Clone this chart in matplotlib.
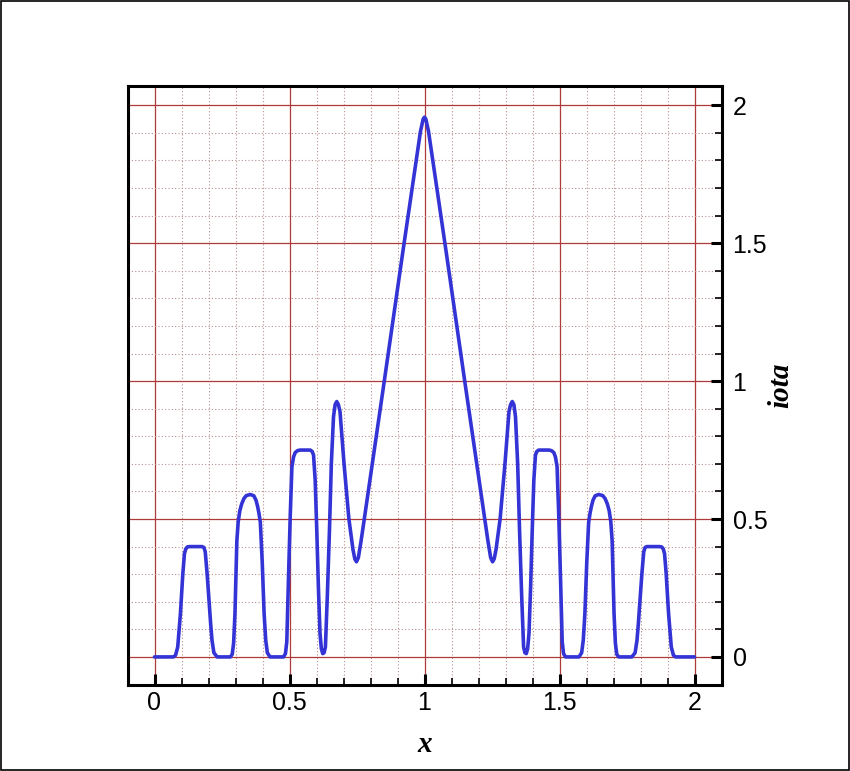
import matplotlib
matplotlib.use("Agg")
import matplotlib.pyplot as plt
from matplotlib.ticker import MultipleLocator, FuncFormatter
from matplotlib.patches import Rectangle

plt.rcParams["font.family"] = ["Liberation Sans", "DejaVu Sans"]

# ---- data ----
x_left = [0.000, 0.070, 0.078, 0.086, 0.096, 0.105, 0.111, 0.116, 0.122, 0.130, 0.150, 0.176,
          0.183, 0.188, 0.195, 0.201, 0.208, 0.213, 0.220, 0.232, 0.281, 0.288, 0.293, 0.298, 0.305,
          0.310, 0.316, 0.323, 0.331, 0.340, 0.355, 0.368, 0.376, 0.382, 0.387, 0.392, 0.399, 0.406, 0.412,
          0.418, 0.428, 0.478, 0.485, 0.490, 0.496, 0.503, 0.509, 0.515, 0.521, 0.530, 0.539, 0.577, 0.584, 0.589,
          0.595, 0.601, 0.607, 0.613, 0.618, 0.623, 0.628, 0.633, 0.640, 0.648,
          0.655, 0.663, 0.669, 0.675, 0.681, 0.687, 0.702, 0.720, 0.735, 0.742,
          0.748, 0.755, 0.765, 0.777, 0.851, 0.921, 0.985, 0.995, 1.000]
iota_left = [0.000, 0.000, 0.006, 0.036, 0.157, 0.303, 0.375, 0.392, 0.399, 0.400, 0.400, 0.400,
             0.397, 0.381, 0.300, 0.218, 0.120, 0.060, 0.015, 0.000, 0.000, 0.010, 0.050, 0.157, 0.420,
             0.490, 0.530, 0.555, 0.574, 0.585, 0.589, 0.584, 0.568, 0.545, 0.520, 0.488, 0.343, 0.157, 0.060,
             0.015, 0.000, 0.000, 0.012, 0.055, 0.278, 0.520, 0.690, 0.725, 0.741, 0.748, 0.750, 0.750, 0.745, 0.732,
             0.642, 0.460, 0.254, 0.085, 0.030, 0.012, 0.015, 0.036, 0.218, 0.460,
             0.702, 0.871, 0.915, 0.926, 0.915, 0.890, 0.700, 0.500, 0.390, 0.355,
             0.345, 0.360, 0.420, 0.500, 1.000, 1.477, 1.905, 1.950, 1.957]

x_right = [1.005, 1.015, 1.079, 1.149, 1.223, 1.235, 1.245, 1.252,
           1.258, 1.265, 1.280, 1.298, 1.313, 1.319, 1.325, 1.331, 1.337, 1.345,
           1.352, 1.360, 1.367, 1.372, 1.377, 1.382, 1.387, 1.393, 1.399, 1.405,
           1.411, 1.416, 1.423, 1.461, 1.470, 1.479, 1.485, 1.491, 1.497, 1.504, 1.510, 1.515, 1.522, 1.572, 1.582,
           1.588, 1.594, 1.601, 1.608, 1.613, 1.618, 1.624, 1.632, 1.645, 1.660, 1.669, 1.677, 1.684, 1.690,
           1.695, 1.702, 1.707, 1.712, 1.719, 1.768, 1.780, 1.787, 1.792, 1.799, 1.805, 1.812, 1.817,
           1.824, 1.850, 1.870, 1.878, 1.884, 1.889, 1.895, 1.904, 1.914, 1.922, 1.930, 2.000]
iota_right = [1.950, 1.905, 1.477, 1.000, 0.500, 0.420, 0.360, 0.345,
              0.355, 0.390, 0.500, 0.700, 0.890, 0.915, 0.926, 0.915, 0.871, 0.702,
              0.460, 0.218, 0.036, 0.015, 0.012, 0.030, 0.085, 0.254, 0.460, 0.642,
              0.732, 0.745, 0.750, 0.750, 0.748, 0.741, 0.725, 0.690, 0.520, 0.278, 0.055, 0.012, 0.000, 0.000, 0.015,
              0.060, 0.157, 0.343, 0.488, 0.520, 0.545, 0.568, 0.584, 0.589, 0.585, 0.574, 0.555, 0.530, 0.490,
              0.420, 0.157, 0.050, 0.010, 0.000, 0.000, 0.015, 0.060, 0.120, 0.218, 0.300, 0.381, 0.397,
              0.400, 0.400, 0.400, 0.399, 0.392, 0.375, 0.303, 0.157, 0.036, 0.006, 0.000, 0.000]

x_ticks = [0, 0.5, 1, 1.5, 2]
y_ticks = [0, 0.5, 1, 1.5, 2]

x_vals = x_left + x_right
iota_vals = iota_left + iota_right

fig = plt.figure(figsize=(8.5, 7.71), dpi=100)
ax = fig.add_axes([127.5 / 850, 1 - 684.5 / 771, (721.5 - 127.5) / 850, (684.5 - 86) / 771])

ax.plot(x_vals, iota_vals, color="#3434d6", lw=2.6, solid_capstyle="round",
        solid_joinstyle="round", zorder=3)

ax.set_xlim(-0.1, 2.1)
ax.set_ylim(-0.1, 2.07)

ax.set_xticks(x_ticks)
ax.set_yticks(y_ticks)
ax.xaxis.set_minor_locator(MultipleLocator(0.1))
ax.yaxis.set_minor_locator(MultipleLocator(0.1))
fmt = FuncFormatter(lambda v, p: ("%g" % v))
ax.xaxis.set_major_formatter(fmt)
ax.yaxis.set_major_formatter(fmt)

ax.grid(which="minor", color="#b89090", ls=(0, (1, 2)), lw=0.8, zorder=0)
ax.grid(which="major", color="#b03a3a", ls="-", lw=0.9, zorder=1)
ax.set_axisbelow(True)

ax.yaxis.tick_right()
ax.xaxis.tick_bottom()
ax.tick_params(which="major", direction="in", length=8, width=2.2,
               labelsize=18, right=True, left=False, top=False, bottom=True)
ax.tick_params(axis="x", which="major", pad=5)
ax.tick_params(axis="y", which="major", pad=8)
ax.tick_params(which="minor", direction="in", length=5, width=1.2,
               right=True, left=False, top=False, bottom=True)

for s in ax.spines.values():
    s.set_linewidth(2.2)
    s.set_color("black")

lab_font = dict(family="Liberation Serif", weight="bold", style="italic", size=21)
ax.set_xlabel("x", **lab_font)
ax.xaxis.set_label_coords((425 - 127.5) / (721.5 - 127.5), -(745 - 684.5) / (684.5 - 86), transform=ax.transAxes)
ax.yaxis.set_label_position("right")
ax.set_ylabel("iota", **lab_font)
ax.yaxis.set_label_coords((781 - 127.5) / (721.5 - 127.5), (684.5 - 385) / (684.5 - 86), transform=ax.transAxes)
ax.yaxis.label.set_rotation(90)
ax.yaxis.label.set_va("center")
ax.yaxis.label.set_ha("center")
ax.xaxis.label.set_va("center")

fig.patches.append(Rectangle((0.001, 0.001), 0.998, 0.998, transform=fig.transFigure,
                             fill=False, edgecolor="black", lw=1.2))

fig.savefig("out.png", dpi=100)
